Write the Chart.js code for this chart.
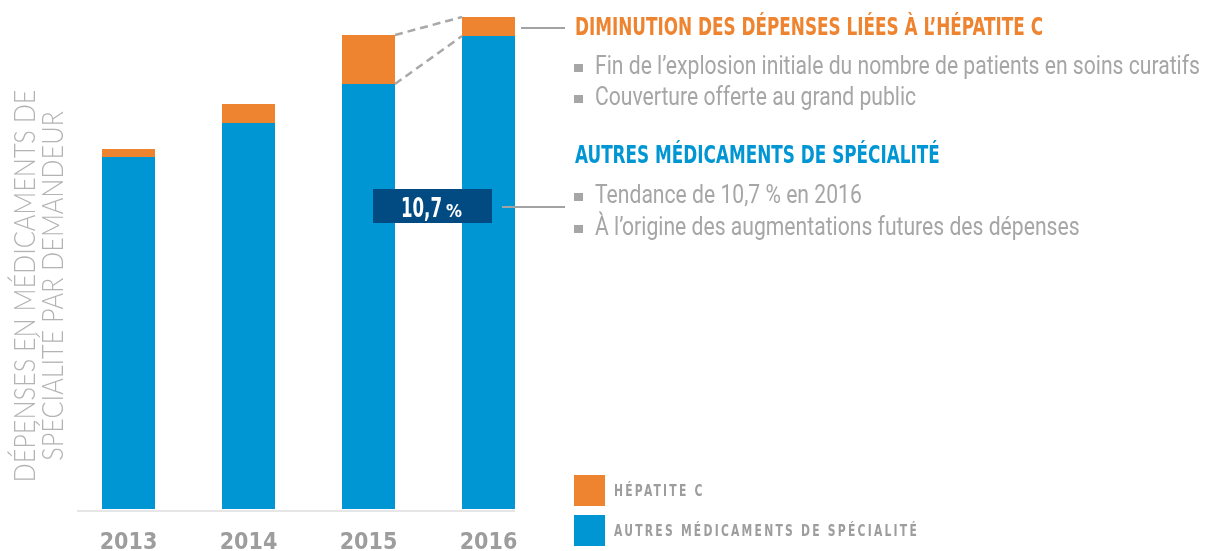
<!DOCTYPE html>
<html>
<head>
<meta charset="utf-8">
<script src="https://cdn.jsdelivr.net/npm/chart.js@4"></script>
<style>
  html, body { margin: 0; padding: 0; background: #fff; }
  #wrap { width: 1205px; height: 551px; }
</style>
</head>
<body>
<div id="wrap"><canvas id="depensesChart"></canvas></div>
<script>
const years = ['2013', '2014', '2015', '2016'];
const autresMedicaments = [352, 386, 425, 473];
const hepatiteC = [8, 19, 49, 19];

const ORANGE = '#ee8330';
const BLUE = '#0096d3';
const NAVY = '#024a82';
const GREY = '#a6a6a6';
const NARROW = "'Liberation Sans Narrow', 'DejaVu Sans Condensed', Roboto, sans-serif";

// fill text squeezed horizontally by a factor (the original uses a condensed face)
function squeezed(ctx, text, x, y, factor) {
    const w = ctx.measureText(text).width;
    ctx.fillText(text, x, y, w * factor);
}

const annotations = {
    id: 'annotations',
    afterDraw(chart) {
        const ctx = chart.ctx;
        const blue = chart.getDatasetMeta(0).data;
        const orange = chart.getDatasetMeta(1).data;
        const half = blue[0].width / 2;
        ctx.save();

        // baseline
        const yBase = chart.scales.y.getPixelForValue(0);
        ctx.strokeStyle = '#e6e6e6';
        ctx.lineWidth = 2;
        ctx.beginPath();
        ctx.moveTo(blue[0].x - half - 25, yBase + 2);
        ctx.lineTo(blue[3].x + half, yBase + 2);
        ctx.stroke();

        // dashed connectors 2015 -> 2016
        ctx.strokeStyle = '#a8a8a8';
        ctx.lineWidth = 2.5;
        ctx.setLineDash([8, 5]);
        ctx.beginPath();
        ctx.moveTo(orange[2].x + half, orange[2].y);
        ctx.lineTo(orange[3].x - half, orange[3].y);
        ctx.moveTo(blue[2].x + half, blue[2].y);
        ctx.lineTo(blue[3].x - half, blue[3].y);
        ctx.stroke();
        ctx.setLineDash([]);

        // callout lines
        const right16 = blue[3].x + half;
        ctx.strokeStyle = '#a3a3a3';
        ctx.lineWidth = 2;
        ctx.beginPath();
        ctx.moveTo(right16 + 6, 28);
        ctx.lineTo(565, 28);
        ctx.moveTo(right16 - 13, 207);
        ctx.lineTo(565, 207);
        ctx.stroke();

        // trend box
        ctx.fillStyle = NAVY;
        ctx.fillRect(right16 - 142, 189, 119, 34);
        ctx.fillStyle = '#fff';
        ctx.textBaseline = 'alphabetic';
        ctx.textAlign = 'left';
        ctx.font = 'bold 27px ' + NARROW;
        squeezed(ctx, '10,7', right16 - 114, 217, 41 / ctx.measureText('10,7').width);
        ctx.font = 'bold 18px ' + NARROW;
        squeezed(ctx, '%', right16 - 69, 217, 16 / ctx.measureText('%').width);

        // right-hand text
        ctx.font = 'bold 24px ' + NARROW;
        const h1 = 'DIMINUTION DES DÉPENSES LIÉES À L\u2019HÉPATITE C';
        const hf = 468 / ctx.measureText(h1).width;
        ctx.fillStyle = ORANGE;
        squeezed(ctx, h1, 575, 35, hf);
        ctx.fillStyle = BLUE;
        squeezed(ctx, 'AUTRES MÉDICAMENTS DE SPÉCIALITÉ', 575, 163, hf);

        ctx.font = '26px Roboto, ' + NARROW;
        const b1 = 'Fin de l\u2019explosion initiale du nombre de patients en soins curatifs';
        const bf = 605 / ctx.measureText(b1).width;
        const bullets = [
            [b1, 74],
            ['Couverture offerte au grand public', 105],
            ['Tendance de 10,7 % en 2016', 203],
            ['À l\u2019origine des augmentations futures des dépenses', 235]
        ];
        bullets.forEach(([t, y]) => {
            ctx.fillStyle = GREY;
            ctx.fillRect(574, y - 10, 9, 8);
            squeezed(ctx, t, 595, y, bf);
        });

        // legend
        const legendItems = [[chart.data.datasets[1], 475], [chart.data.datasets[0], 515]];
        ctx.font = 'bold 16px ' + NARROW;
        ctx.letterSpacing = '3px';
        ctx.textBaseline = 'middle';
        const lf = 305 / ctx.measureText('AUTRES MÉDICAMENTS DE SPÉCIALITÉ').width;
        legendItems.forEach(([ds, y]) => {
            ctx.fillStyle = ds.backgroundColor;
            ctx.fillRect(574, y, 31, 31);
            ctx.fillStyle = '#9d9d9d';
            squeezed(ctx, ds.label, 614, y + 17, lf);
        });
        ctx.letterSpacing = '0px';

        // y axis title, two rotated lines
        ctx.fillStyle = '#b3b3b3';
        ctx.font = '300 30px Lato, Roboto, ' + NARROW;
        ctx.textAlign = 'center';
        ctx.textBaseline = 'alphabetic';
        const t1 = 'DÉPENSES EN MÉDICAMENTS DE';
        const t2 = 'SPÉCIALITÉ PAR DEMANDEUR';
        const tf = 393 / ctx.measureText(t1).width;
        ctx.translate(0, 286);
        ctx.rotate(-Math.PI / 2);
        squeezed(ctx, t1, 0, 35, tf);
        squeezed(ctx, t2, 0, 63, tf);

        ctx.restore();
    }
};

new Chart(document.getElementById('depensesChart'), {
    type: 'bar',
    data: {
        labels: years,
        datasets: [
            {
                label: 'AUTRES MÉDICAMENTS DE SPÉCIALITÉ',
                data: autresMedicaments,
                backgroundColor: BLUE
            },
            {
                label: 'HÉPATITE C',
                data: hepatiteC,
                backgroundColor: ORANGE
            }
        ]
    },
    options: {
        responsive: true,
        maintainAspectRatio: false,
        animation: false,
        datasets: {
            bar: { barPercentage: 53 / 120, categoryPercentage: 1 }
        },
        layout: { padding: { left: 68.5, right: 656.5, top: 9, bottom: -27 } },
        plugins: {
            legend: { display: false },
            tooltip: { enabled: false }
        },
        scales: {
            x: {
                stacked: true,
                grid: { display: false, drawTicks: false, tickLength: 0 },
                border: { display: false },
                ticks: {
                    padding: 23,
                    color: '#9d9d9d',
                    font: { family: NARROW, size: 23, weight: 'bold', lineHeight: 1 }
                }
            },
            y: {
                stacked: true,
                display: false,
                min: 0,
                max: 500
            }
        }
    },
    plugins: [annotations]
});
</script>
</body>
</html>
